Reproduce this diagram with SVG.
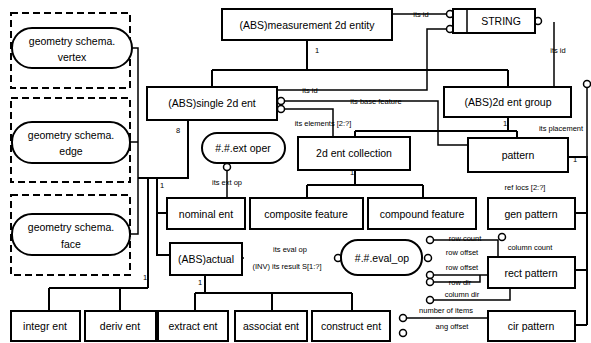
<svg xmlns="http://www.w3.org/2000/svg" width="591" height="343" viewBox="0 0 591 343">
<style>
.box{fill:#fff;stroke:#000;stroke-width:2}
.dash{fill:none;stroke:#000;stroke-width:2;stroke-dasharray:7,4}
.t{font-family:"Liberation Sans",Arial,sans-serif;font-size:10.5px;text-anchor:middle;fill:#000}
.l{font-family:"Liberation Sans",Arial,sans-serif;font-size:7.5px;text-anchor:middle;fill:#000}
.c{fill:none;stroke:#000;stroke-width:1.5}
.s{fill:none;stroke:#000;stroke-width:2}
.o{fill:#fff;stroke:#000;stroke-width:1.5}
</style>
<rect width="591" height="343" fill="#fff"/>
<g id="connectors">
<path class="s" d="M307,40V70M212,70H508M212,70V87M508,70V87"/>
<path class="s" d="M508,117V131M355,131H517M355,131V137M517,131V138"/>
<path class="s" d="M355,170V185M307,185H423M307,185V198M423,185V198"/>
<path class="s" d="M568,157H587V325M575,213H587M575,270H587M575,325H587"/>
<path class="s" d="M188,120V178H138M148,178V288M49,288H148M49,288V311M120,288V311"/>
<path class="s" d="M157,178V255H170M157,213H167"/>
<path class="s" d="M205,275V293M195,293H352M195,293V311M272,293V311M352,293V311"/>
<path class="c" d="M132,48H138V234H130M130,142H138"/>
<path class="c" d="M392,14H446"/>
<path class="c" d="M277,90H427V29H446"/>
<path class="c" d="M285,101H438V145H468"/>
<path class="c" d="M285,109H333V137"/>
<path class="c" d="M554,22V87"/>
<path class="c" d="M587,88V157"/>
<path class="c" d="M227,171V198"/>
<path class="c" d="M434,240H498V257"/>
<path class="c" d="M434,275H488"/>
<path class="c" d="M434,282H480V275"/>
<path class="c" d="M510,288V300H434"/>
<path class="c" d="M407,318H488"/>
<circle class="o" cx="450" cy="14" r="3.5"/>
<circle class="o" cx="450" cy="29" r="3.5"/>
<circle class="o" cx="538" cy="21" r="3.5"/>
<circle class="o" cx="281" cy="101" r="3.5"/>
<circle class="o" cx="281" cy="109" r="3.5"/>
<circle class="o" cx="587" cy="84" r="3.5"/>
<circle class="o" cx="227" cy="167" r="3.5"/>
<circle class="o" cx="338" cy="258" r="3.5"/>
<circle class="o" cx="430" cy="240" r="3.5"/>
<circle class="o" cx="502" cy="237" r="3.5"/>
<circle class="o" cx="428" cy="258" r="3.5"/>
<circle class="o" cx="430" cy="275" r="3.5"/>
<circle class="o" cx="430" cy="282" r="3.5"/>
<circle class="o" cx="430" cy="300" r="3.5"/>
<circle class="o" cx="403" cy="318" r="3.5"/>
<circle class="o" cx="403" cy="333" r="3.5"/>
<circle cx="243" cy="258" r="1" fill="#000"/>
<text class="l" x="421" y="17">its id</text>
<text class="l" x="310" y="93">its id</text>
<text class="l" x="376" y="104">its base feature</text>
<text class="l" x="323" y="126">its elements [2:?]</text>
<text class="l" x="558" y="53">its id</text>
<text class="l" x="561" y="131">its placement</text>
<text class="l" x="227" y="185">its ext op</text>
<text class="l" x="290" y="252">its eval op</text>
<text class="l" x="287" y="269">(INV) its result S[1:?]</text>
<text class="l" x="525" y="190">ref locs [2:?]</text>
<text class="l" x="465" y="241">row count</text>
<text class="l" x="530" y="250">column count</text>
<text class="l" x="462" y="255">row offset</text>
<text class="l" x="462" y="270">row offset</text>
<text class="l" x="460" y="285">row dir</text>
<text class="l" x="462" y="297">column dir</text>
<text class="l" x="446" y="313">number of items</text>
<text class="l" x="452" y="329">ang offset</text>
<text class="l" x="317" y="53">1</text>
<text class="l" x="178" y="133">8</text>
<text class="l" x="162" y="188">1</text>
<text class="l" x="145" y="280">1</text>
<text class="l" x="200" y="285">1</text>
<text class="l" x="352" y="175">1</text>
<text class="l" x="505" y="126">1</text>
<text class="l" x="575" y="162">1</text>
</g>
<g id="geom-vertex">
<rect class="dash" x="11" y="13" width="119" height="75"/>
<rect class="box" x="12" y="28" width="120" height="40" rx="20"/>
<text class="t" x="72" y="45">geometry schema.</text>
<text class="t" x="72" y="61">vertex</text>
</g>
<g id="geom-edge">
<rect class="dash" x="11" y="98" width="119" height="84"/>
<rect class="box" x="12" y="122" width="118" height="41" rx="20"/>
<text class="t" x="71" y="139">geometry schema.</text>
<text class="t" x="71" y="155">edge</text>
</g>
<g id="geom-face">
<rect class="dash" x="11" y="195" width="119" height="80"/>
<rect class="box" x="12" y="214" width="118" height="41" rx="20"/>
<text class="t" x="71" y="231">geometry schema.</text>
<text class="t" x="71" y="248">face</text>
</g>
<g id="measurement"><rect class="box" x="222" y="9" width="170" height="31"/><text class="t" x="307" y="29">(ABS)measurement 2d entity</text></g>
<g id="string"><rect class="box" x="453" y="9" width="82" height="24"/><line x1="467" y1="9" x2="467" y2="33" stroke="#000" stroke-width="1.5"/><text class="t" x="501" y="25">STRING</text></g>
<g id="single"><rect class="box" x="147" y="87" width="130" height="33"/><text class="t" x="212" y="107">(ABS)single 2d ent</text></g>
<g id="group"><rect class="box" x="444" y="87" width="127" height="30"/><text class="t" x="508" y="106">(ABS)2d ent group</text></g>
<g id="extoper"><rect class="box" x="202" y="133" width="83" height="30" rx="15"/><text class="t" x="243" y="152">#.#.ext oper</text></g>
<g id="collection"><rect class="box" x="298" y="137" width="112" height="33"/><text class="t" x="354" y="157">2d ent collection</text></g>
<g id="pattern"><rect class="box" x="468" y="138" width="100" height="34"/><text class="t" x="518" y="159">pattern</text></g>
<g id="nominal"><rect class="box" x="167" y="198" width="78" height="31"/><text class="t" x="206" y="218">nominal ent</text></g>
<g id="composite"><rect class="box" x="250" y="198" width="113" height="31"/><text class="t" x="306" y="218">composite feature</text></g>
<g id="compound"><rect class="box" x="368" y="198" width="108" height="31"/><text class="t" x="422" y="218">compound feature</text></g>
<g id="genpattern"><rect class="box" x="488" y="198" width="87" height="31"/><text class="t" x="531" y="218">gen pattern</text></g>
<g id="actual"><rect class="box" x="170" y="243" width="72" height="32"/><text class="t" x="206" y="263">(ABS)actual</text></g>
<g id="evalop"><rect class="box" x="341" y="240" width="81" height="35" rx="17"/><text class="t" x="382" y="262">#.#.eval_op</text></g>
<g id="rectpattern"><rect class="box" x="488" y="257" width="87" height="31"/><text class="t" x="531" y="277">rect pattern</text></g>
<g id="cirpattern"><rect class="box" x="488" y="311" width="87" height="30"/><text class="t" x="531" y="330">cir pattern</text></g>
<g id="integr"><rect class="box" x="11" y="311" width="69" height="30"/><text class="t" x="45" y="330">integr ent</text></g>
<g id="deriv"><rect class="box" x="85" y="311" width="71" height="30"/><text class="t" x="120" y="330">deriv ent</text></g>
<g id="extract"><rect class="box" x="158" y="311" width="70" height="30"/><text class="t" x="193" y="330">extract ent</text></g>
<g id="associat"><rect class="box" x="235" y="311" width="72" height="30"/><text class="t" x="271" y="330">associat ent</text></g>
<g id="construct"><rect class="box" x="312" y="311" width="78" height="30"/><text class="t" x="351" y="330">construct ent</text></g>
</svg>
